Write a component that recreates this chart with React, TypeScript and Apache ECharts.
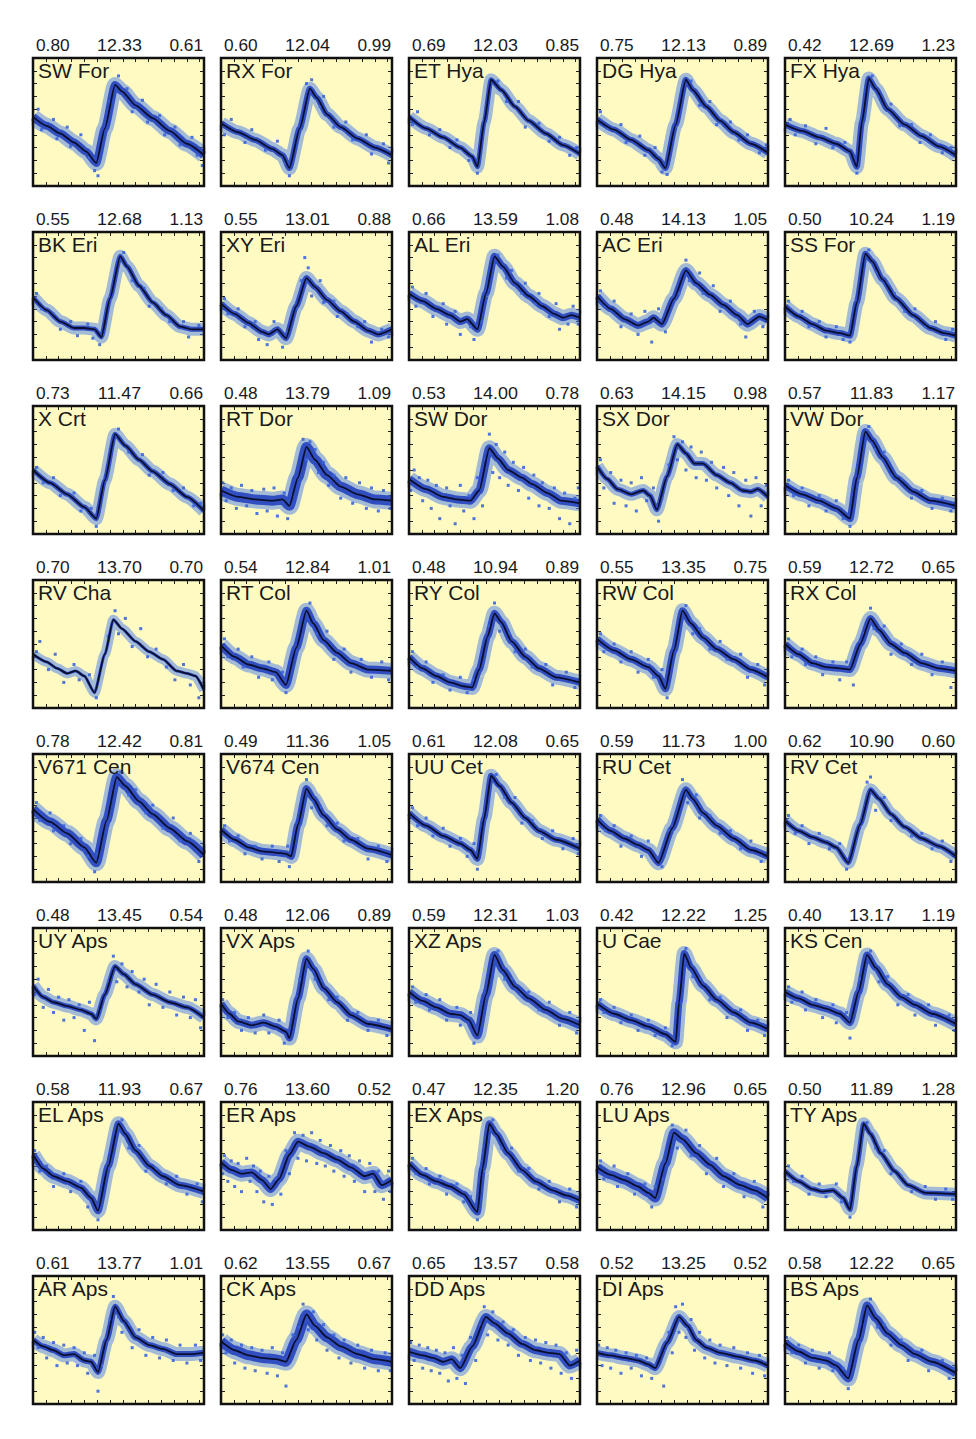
import React, { useEffect, useRef } from "react";
import * as echarts from "echarts";

// ---------- data ----------
const starNames = [
  "SW For", "RX For", "ET Hya", "DG Hya", "FX Hya",
  "BK Eri", "XY Eri", "AL Eri", "AC Eri", "SS For",
  "X Crt", "RT Dor", "SW Dor", "SX Dor", "VW Dor",
  "RV Cha", "RT Col", "RY Col", "RW Col", "RX Col",
  "V671 Cen", "V674 Cen", "UU Cet", "RU Cet", "RV Cet",
  "UY Aps", "VX Aps", "XZ Aps", "U Cae", "KS Cen",
  "EL Aps", "ER Aps", "EX Aps", "LU Aps", "TY Aps",
  "AR Aps", "CK Aps", "DD Aps", "DI Aps", "BS Aps",
];

const periods = [
  "0.80", "0.60", "0.69", "0.75", "0.42",
  "0.55", "0.55", "0.66", "0.48", "0.50",
  "0.73", "0.48", "0.53", "0.63", "0.57",
  "0.70", "0.54", "0.48", "0.55", "0.59",
  "0.78", "0.49", "0.61", "0.59", "0.62",
  "0.48", "0.48", "0.59", "0.42", "0.40",
  "0.58", "0.76", "0.47", "0.76", "0.50",
  "0.61", "0.62", "0.65", "0.52", "0.58",
];

const meanMags = [
  "12.33", "12.04", "12.03", "12.13", "12.69",
  "12.68", "13.01", "13.59", "14.13", "10.24",
  "11.47", "13.79", "14.00", "14.15", "11.83",
  "13.70", "12.84", "10.94", "13.35", "12.72",
  "12.42", "11.36", "12.08", "11.73", "10.90",
  "13.45", "12.06", "12.31", "12.22", "13.17",
  "11.93", "13.60", "12.35", "12.96", "11.89",
  "13.77", "13.55", "13.57", "13.25", "12.22",
];

const amplitudes = [
  "0.61", "0.99", "0.85", "0.89", "1.23",
  "1.13", "0.88", "1.08", "1.05", "1.19",
  "0.66", "1.09", "0.78", "0.98", "1.17",
  "0.70", "1.01", "0.89", "0.75", "0.65",
  "0.81", "1.05", "0.65", "1.00", "0.60",
  "0.54", "0.89", "1.03", "1.25", "1.19",
  "0.67", "0.52", "1.20", "0.65", "1.28",
  "1.01", "0.67", "0.58", "0.52", "0.65",
];

// fitted light curves: [phase %, brightness % of panel height]
const fitCurves = [
  [[0,54],[8,47],[16,41],[24,34],[31,27],[37,18],[42,45],[48,79],[52,74],[60,63],[70,53],[80,43],[90,33],[100,24]],
  [[0,49],[10,42],[20,36],[30,29],[36,24],[40,14],[46,45],[52,76],[56,69],[62,56],[70,46],[80,37],[90,30],[100,24]],
  [[0,54],[10,45],[20,38],[30,30],[37,23],[40,15],[44,50],[48,83],[54,75],[62,62],[70,51],[80,41],[90,32],[100,25]],
  [[0,52],[10,44],[20,36],[30,28],[36,21],[40,14],[46,48],[52,83],[56,75],[64,62],[72,51],[80,42],[90,33],[100,26]],
  [[0,48],[10,43],[20,38],[30,33],[38,27],[42,15],[45,50],[49,84],[53,76],[60,60],[70,48],[80,39],[90,31],[100,24]],
  [[0,49],[8,39],[16,30],[24,25],[30,25],[36,24],[40,18],[45,48],[51,81],[55,73],[62,58],[70,45],[78,35],[86,26],[93,24],[100,24]],
  [[0,44],[8,36],[16,29],[24,22],[28,20],[33,24],[38,17],[44,42],[50,64],[55,57],[62,47],[70,38],[78,30],[86,23],[92,20],[100,24]],
  [[0,52],[8,46],[16,40],[24,35],[30,30],[34,32],[40,24],[45,52],[50,81],[55,73],[62,60],[70,50],[78,42],[85,36],[90,33],[95,35],[100,33]],
  [[0,50],[8,40],[16,32],[24,27],[30,30],[33,33],[38,28],[45,48],[52,70],[58,60],[66,51],[74,43],[82,35],[88,28],[95,34],[100,31]],
  [[0,42],[8,34],[16,28],[24,23],[32,21],[38,19],[42,45],[47,83],[51,77],[57,63],[65,48],[75,35],[85,25],[93,21],[100,19]],
  [[0,50],[10,40],[20,31],[30,21],[37,12],[42,42],[48,78],[54,69],[62,58],[70,49],[80,39],[90,29],[100,18]],
  [[0,34],[10,29],[20,27],[30,26],[36,27],[40,22],[45,44],[50,68],[55,58],[62,46],[70,37],[80,31],[90,27],[100,26]],
  [[0,43],[10,35],[20,29],[28,27],[36,26],[41,34],[47,67],[52,59],[58,50],[66,44],[72,39],[81,32],[89,26],[100,24]],
  [[0,53],[6,43],[12,35],[20,31],[27,34],[31,30],[35,19],[41,45],[47,70],[52,63],[57,55],[62,55],[70,46],[78,40],[85,34],[90,33],[94,35],[100,29]],
  [[0,38],[10,31],[20,26],[30,20],[38,12],[42,44],[47,80],[51,73],[57,60],[65,44],[75,33],[85,26],[100,22]],
  [[0,42],[8,36],[14,31],[20,27],[25,29],[30,25],[36,12],[42,42],[47,69],[52,62],[60,52],[68,44],[76,38],[84,29],[90,27],[95,25],[100,14]],
  [[0,49],[8,40],[16,34],[24,31],[32,28],[38,18],[44,47],[50,76],[54,66],[60,53],[68,43],[76,35],[86,30],[100,29]],
  [[0,40],[8,31],[16,25],[24,20],[32,17],[37,16],[41,30],[46,56],[50,74],[54,67],[60,52],[68,40],[76,31],[86,24],[100,20]],
  [[0,54],[10,45],[20,38],[30,32],[36,25],[40,15],[45,45],[50,76],[55,66],[62,55],[70,46],[80,38],[90,30],[100,24]],
  [[0,50],[8,42],[16,35],[24,32],[32,31],[38,30],[44,50],[50,70],[55,61],[62,50],[70,43],[80,35],[90,31],[100,29]],
  [[0,57],[10,47],[20,38],[30,27],[37,15],[43,48],[49,82],[54,75],[62,63],[70,53],[80,42],[90,32],[100,21]],
  [[0,41],[8,33],[16,27],[24,24],[32,23],[38,22],[41,20],[45,45],[50,73],[54,65],[60,52],[68,41],[76,33],[86,26],[100,21]],
  [[0,54],[10,44],[20,36],[30,30],[36,25],[40,18],[44,50],[48,83],[53,75],[60,62],[68,50],[76,40],[86,33],[100,26]],
  [[0,49],[8,40],[16,34],[24,29],[30,25],[36,15],[44,42],[52,72],[56,65],[62,54],[70,44],[80,34],[90,25],[100,20]],
  [[0,48],[8,40],[16,35],[24,31],[30,27],[37,15],[44,45],[50,72],[55,65],[62,53],[70,43],[80,34],[90,28],[100,20]],
  [[0,55],[6,46],[12,42],[20,39],[28,36],[34,33],[37,29],[42,48],[48,70],[53,64],[60,56],[70,48],[80,42],[90,38],[100,30]],
  [[0,41],[5,33],[10,27],[18,24],[25,26],[32,23],[38,19],[40,14],[45,45],[50,76],[54,68],[60,53],[68,42],[76,32],[86,25],[100,21]],
  [[0,50],[8,43],[16,38],[24,33],[30,32],[35,28],[40,16],[45,48],[50,79],[55,67],[62,54],[70,45],[80,36],[90,29],[100,24]],
  [[0,41],[10,33],[20,28],[30,23],[40,17],[46,11],[48,42],[51,80],[55,69],[62,55],[70,44],[80,34],[90,26],[100,21]],
  [[0,50],[8,45],[16,40],[24,37],[32,33],[38,26],[43,50],[48,79],[53,69],[60,56],[68,46],[76,40],[86,33],[100,25]],
  [[0,59],[6,48],[12,42],[20,38],[28,33],[34,25],[38,15],[44,50],[50,83],[54,75],[60,62],[68,50],[76,42],[86,35],[100,30]],
  [[0,53],[6,47],[12,44],[18,45],[24,39],[29,32],[34,40],[40,59],[45,69],[52,65],[60,60],[68,55],[76,49],[84,42],[89,44],[94,35],[100,39]],
  [[0,52],[8,43],[16,38],[24,34],[32,28],[40,14],[43,48],[47,83],[51,75],[58,60],[66,47],[74,38],[84,31],[92,27],[100,23]],
  [[0,49],[8,43],[16,39],[24,34],[30,29],[34,25],[40,52],[45,76],[50,71],[58,60],[66,51],[74,42],[84,35],[92,31],[100,25]],
  [[0,46],[8,38],[16,32],[22,30],[28,31],[34,25],[38,16],[42,50],[46,83],[50,75],[56,60],[64,46],[72,35],[82,29],[100,28]],
  [[0,50],[6,45],[12,42],[18,38],[24,39],[30,34],[34,33],[38,25],[43,50],[48,76],[53,65],[60,52],[68,46],[76,43],[84,39],[92,39],[100,40]],
  [[0,49],[8,42],[16,38],[24,36],[32,35],[38,33],[44,50],[50,70],[55,61],[62,52],[70,45],[80,39],[90,35],[100,33]],
  [[0,41],[8,38],[14,36],[20,33],[25,35],[30,28],[37,45],[45,68],[50,63],[58,55],[66,47],[74,42],[82,40],[88,39],[94,30],[100,34]],
  [[0,40],[8,38],[16,36],[24,34],[30,31],[34,28],[41,48],[48,68],[53,61],[58,50],[64,44],[72,40],[82,37],[92,34],[100,30]],
  [[0,48],[8,41],[16,36],[24,34],[30,30],[37,20],[43,50],[48,77],[53,67],[60,55],[68,46],[76,39],[86,33],[100,24]],
];

// individual observations that stand out of the dense band: [phase %, brightness %]
const observations = [
  [[3,60],[5,44],[12,52],[14,37],[20,46],[22,31],[28,40],[33,22],[36,12],[38,8],[45,66],[50,86],[55,76],[58,58],[64,67],[67,50],[74,55],[77,40],[83,46],[86,32],[93,38],[96,24],[99,16]],
  [[2,40],[6,52],[14,34],[18,44],[26,28],[33,35],[38,18],[40,8],[50,80],[53,83],[58,62],[60,70],[66,46],[73,50],[77,36],[85,40],[88,25],[95,33],[98,18]],
  [[2,48],[5,58],[12,40],[18,44],[24,30],[28,36],[35,20],[40,10],[52,82],[57,66],[64,66],[68,46],[76,49],[82,35],[88,38],[94,24],[98,30]],
  [[2,58],[6,45],[14,48],[17,34],[25,39],[28,24],[34,30],[38,11],[41,9],[55,82],[60,63],[66,66],[70,48],[78,50],[83,36],[88,40],[95,26],[99,32]],
  [[3,52],[6,40],[12,47],[18,33],[24,45],[28,30],[35,34],[40,22],[42,10],[51,86],[55,70],[62,64],[67,47],[74,48],[79,34],[85,40],[92,26],[97,30]],
  [[2,52],[5,40],[12,36],[16,24],[22,30],[26,19],[32,28],[35,17],[39,12],[53,84],[58,62],[65,56],[68,42],[75,40],[80,30],[88,30],[91,18],[97,27]],
  [[2,48],[4,36],[10,40],[14,26],[20,30],[22,16],[27,12],[31,30],[36,10],[39,22],[47,62],[49,80],[51,72],[53,50],[58,62],[60,45],[66,46],[68,34],[74,36],[80,26],[84,30],[88,14],[94,24],[98,18]],
  [[2,57],[4,42],[10,52],[14,34],[20,44],[22,28],[27,38],[30,20],[36,26],[38,16],[42,30],[52,82],[57,64],[60,70],[66,52],[68,60],[74,44],[76,52],[82,34],[86,44],[88,24],[93,28],[96,42],[99,28]],
  [[2,54],[5,42],[10,46],[14,26],[20,36],[24,20],[28,38],[32,14],[36,40],[40,22],[48,52],[52,78],[54,62],[60,68],[62,52],[68,58],[72,38],[78,46],[84,28],[87,18],[92,38],[97,26]],
  [[2,46],[4,36],[10,38],[14,26],[20,30],[24,18],[30,26],[34,16],[38,14],[49,86],[54,68],[60,60],[64,52],[70,38],[76,40],[82,26],[88,30],[94,16],[98,24]],
  [[2,52],[6,40],[12,44],[16,30],[24,32],[28,18],[34,20],[37,6],[50,82],[56,64],[64,62],[68,46],[76,48],[82,34],[88,36],[94,22],[98,24]],
  [[1,40],[3,26],[6,36],[9,20],[12,38],[15,22],[18,34],[21,16],[25,35],[27,18],[31,36],[33,14],[37,32],[39,12],[42,30],[48,74],[50,58],[52,72],[55,66],[57,48],[60,56],[63,38],[66,46],[70,28],[73,44],[77,24],[81,40],[85,20],[88,36],[92,18],[95,34],[99,20]],
  [[1,34],[3,50],[6,44],[8,26],[11,42],[13,20],[16,38],[18,12],[22,36],[24,22],[27,8],[30,38],[32,18],[35,30],[38,12],[40,44],[43,22],[45,58],[47,78],[49,48],[51,70],[53,44],[56,64],[58,38],[61,56],[64,34],[67,52],[70,28],[73,46],[76,22],[78,40],[82,20],[85,36],[88,12],[91,32],[94,8],[97,28],[99,36]],
  [[2,58],[4,36],[8,48],[10,24],[14,42],[17,22],[20,40],[23,18],[26,44],[29,26],[33,36],[36,10],[38,28],[42,54],[45,76],[47,58],[50,72],[52,50],[55,68],[58,44],[61,64],[64,42],[67,56],[70,36],[74,52],[77,30],[80,48],[83,22],[87,42],[90,14],[93,44],[96,22],[99,38]],
  [[2,42],[5,30],[10,36],[14,22],[20,30],[24,18],[30,26],[34,12],[38,6],[49,84],[53,66],[58,64],[63,46],[68,42],[74,28],[80,34],[86,20],[92,28],[97,18]],
  [[2,44],[4,52],[9,30],[13,42],[18,20],[24,34],[27,22],[33,26],[37,8],[44,56],[48,76],[50,58],[54,70],[58,48],[63,62],[67,40],[72,46],[78,32],[83,22],[88,34],[92,18],[97,8]],
  [[2,54],[4,40],[10,46],[13,32],[18,40],[22,24],[28,36],[30,22],[36,28],[38,12],[52,82],[56,58],[62,60],[66,38],[72,46],[76,28],[82,38],[88,24],[94,36],[98,22]],
  [[2,44],[5,32],[10,36],[14,20],[20,26],[24,14],[30,24],[34,12],[38,22],[47,64],[50,82],[53,60],[58,58],[62,44],[68,46],[72,32],[80,34],[84,18],[92,28],[97,16]],
  [[2,58],[4,44],[10,50],[14,36],[20,44],[24,28],[30,38],[33,24],[38,30],[41,8],[52,80],[56,58],[60,62],[66,46],[72,52],[76,38],[84,42],[88,24],[94,34],[98,18]],
  [[2,54],[4,40],[10,46],[12,34],[18,40],[22,26],[28,36],[32,22],[36,36],[40,18],[46,58],[50,78],[52,62],[58,64],[62,42],[68,50],[74,34],[80,42],[86,26],[92,36],[97,16]],
  [[2,62],[4,48],[10,54],[12,40],[18,44],[22,30],[28,34],[32,20],[36,8],[38,22],[51,86],[56,68],[60,72],[66,54],[70,60],[76,42],[82,50],[86,32],[92,38],[97,16]],
  [[2,44],[5,32],[10,36],[14,22],[20,28],[24,18],[30,28],[34,16],[39,28],[40,12],[50,80],[53,58],[58,58],[62,44],[68,46],[72,32],[80,34],[86,18],[92,28],[97,16]],
  [[2,58],[5,44],[10,50],[14,36],[20,42],[24,28],[30,34],[34,20],[38,30],[40,10],[51,84],[56,66],[62,66],[66,46],[72,48],[78,34],[84,40],[90,26],[96,34],[99,22]],
  [[2,52],[5,40],[10,44],[14,28],[20,36],[26,20],[30,32],[34,18],[38,12],[42,40],[50,80],[53,62],[58,68],[60,50],[66,52],[72,38],[78,40],[84,26],[90,32],[96,16]],
  [[2,52],[6,38],[10,44],[14,30],[20,38],[26,26],[32,30],[36,10],[48,78],[50,82],[53,56],[58,66],[62,48],[68,46],[74,36],[80,38],[86,26],[92,32],[97,16]],
  [[1,48],[3,60],[6,38],[9,52],[12,34],[15,46],[18,28],[21,44],[24,30],[27,40],[30,20],[33,42],[36,12],[39,36],[44,58],[47,78],[49,58],[52,72],[55,54],[58,66],[62,50],[65,60],[68,40],[72,56],[76,38],[80,50],[84,32],[88,46],[92,30],[95,44],[98,22]],
  [[1,44],[4,30],[8,34],[12,20],[16,30],[20,18],[25,32],[28,18],[34,28],[37,10],[46,60],[51,82],[55,60],[58,58],[63,44],[68,46],[74,28],[80,34],[86,20],[92,28],[97,16]],
  [[2,54],[4,42],[10,48],[12,36],[18,44],[22,28],[28,38],[30,24],[36,34],[38,10],[52,82],[56,60],[60,60],[66,48],[70,50],[76,36],[82,42],[88,24],[94,34],[98,18]],
  [[2,44],[4,34],[10,38],[14,26],[20,32],[24,20],[30,28],[34,16],[40,22],[44,8],[52,84],[56,62],[60,60],[66,44],[72,46],[76,30],[84,36],[88,20],[94,28],[98,16]],
  [[2,54],[4,42],[10,50],[12,36],[18,44],[22,30],[28,40],[30,26],[36,34],[38,14],[44,60],[50,82],[55,58],[60,62],[66,40],[72,48],[76,32],[84,40],[88,24],[96,32],[99,20]],
  [[1,62],[4,46],[8,50],[12,34],[18,44],[22,30],[28,38],[32,18],[38,8],[52,86],[56,64],[62,66],[66,46],[72,48],[78,36],[84,42],[90,28],[96,36],[99,22]],
  [[1,44],[2,58],[4,38],[6,54],[8,34],[10,52],[12,30],[15,56],[17,38],[19,50],[21,30],[23,46],[25,22],[28,42],[30,20],[32,40],[35,28],[38,62],[40,44],[43,76],[45,56],[48,74],[50,54],[53,76],[56,52],[58,70],[61,50],[64,66],[66,46],[70,62],[72,42],[75,58],[78,38],[81,54],[84,30],[87,52],[90,30],[92,46],[95,24],[98,46],[99,30]],
  [[2,56],[4,44],[10,48],[12,36],[18,42],[22,28],[28,36],[32,22],[36,26],[40,8],[49,86],[54,64],[60,64],[64,46],[70,48],[76,32],[82,38],[88,22],[94,32],[98,18]],
  [[2,54],[4,40],[10,50],[12,34],[18,44],[22,28],[28,36],[32,18],[34,34],[38,40],[44,82],[47,64],[52,78],[55,58],[60,66],[64,44],[70,56],[74,34],[80,44],[86,26],[92,38],[97,18]],
  [[2,50],[5,38],[10,42],[14,28],[20,36],[24,26],[30,36],[33,22],[38,10],[48,84],[53,64],[58,62],[62,44],[68,42],[74,30],[82,34],[88,24],[94,32],[98,24]],
  [[1,56],[3,44],[6,52],[8,36],[12,48],[14,30],[18,46],[20,32],[24,44],[26,30],[30,40],[32,24],[36,38],[38,10],[40,30],[45,66],[47,84],[50,68],[52,56],[56,62],[58,44],[62,58],[66,38],[70,52],[74,36],[78,50],[82,34],[86,46],[90,32],[95,46],[98,34]],
  [[1,54],[3,40],[6,50],[8,32],[12,46],[14,28],[18,44],[20,26],[24,42],[27,24],[30,44],[33,22],[36,40],[38,14],[42,54],[46,60],[48,78],[51,58],[54,72],[56,50],[60,62],[62,42],[66,54],[69,36],[72,50],[76,32],[80,46],[84,28],[88,42],[92,26],[96,40],[99,26]],
  [[1,48],[3,34],[6,46],[8,28],[11,44],[13,26],[16,42],[18,24],[21,40],[23,18],[26,44],[28,20],[31,38],[33,16],[36,52],[39,34],[42,62],[44,76],[46,54],[49,72],[52,50],[55,64],[58,46],[61,58],[64,38],[68,52],[71,34],[74,50],[77,32],[80,48],[83,28],[86,46],[89,24],[92,40],[95,20],[98,42]],
  [[1,46],[3,30],[6,44],[8,28],[11,42],[14,24],[17,40],[20,28],[23,38],[26,22],[29,36],[32,20],[35,30],[37,38],[39,14],[42,56],[44,40],[46,76],[48,56],[50,78],[52,52],[55,66],[57,42],[60,56],[63,36],[66,50],[69,32],[72,46],[76,30],[80,44],[84,28],[88,40],[91,24],[95,38],[98,22]],
  [[1,52],[4,40],[8,46],[12,32],[16,42],[20,28],[26,40],[28,26],[34,28],[37,12],[45,62],[50,82],[54,60],[58,62],[62,46],[68,50],[72,34],[80,42],[84,26],[92,34],[96,20],[99,28]],
];

// ---------- layout / style (kept apart from the data) ----------
const bandWidth = [
  10, 8, 7, 8, 8,
  7, 8, 9, 9, 8,
  7, 12, 10, 7, 9,
  4, 10, 9, 9, 9,
  11, 9, 8, 9, 7,
  7, 9, 10, 9, 9,
  9, 10, 9, 11, 7,
  8, 12, 10, 8, 10,
];
const COLS = 5;
const COL_LEFT = [33, 221, 409, 597, 785];
const ROW_TOP0 = 58;
const ROW_STEP = 174;
const PW = 171;
const PH = 128;
const FONT = "'Liberation Sans', Arial, Helvetica, sans-serif";

export default function App() {
  const ref = useRef<HTMLDivElement>(null);

  useEffect(() => {
    if (!ref.current) return;
    const chart = echarts.init(ref.current, undefined, { renderer: "svg" });

    const grids: any[] = [];
    const xAxes: any[] = [];
    const yAxes: any[] = [];
    const series: any[] = [];
    const graphics: any[] = [];

    const tick = { show: true, inside: true, length: 4, lineStyle: { color: "#222", width: 1 } };

    starNames.forEach((name, i) => {
      const r = Math.floor(i / COLS);
      const c = i % COLS;
      const left = COL_LEFT[c];
      const top = ROW_TOP0 + r * ROW_STEP;

      grids.push({
        left, top, width: PW, height: PH,
        show: true,
        backgroundColor: "#fffac2",
        borderWidth: 0,
        containLabel: false,
      });

      const xBase = {
        gridIndex: i, type: "value", min: 0, max: 100, interval: 7.5,
        axisLabel: { show: false }, splitLine: { show: false },
        axisLine: { show: false, onZero: false }, axisTick: tick,
      };
      const yBase = {
        gridIndex: i, type: "value", min: 0, max: 100, interval: 10,
        axisLabel: { show: false }, splitLine: { show: false },
        axisLine: { show: false, onZero: false }, axisTick: tick,
      };
      xAxes.push({ ...xBase, position: "bottom" });
      xAxes.push({ ...xBase, position: "top" });
      yAxes.push({ ...yBase, position: "left" });
      yAxes.push({ ...yBase, position: "right" });

      const xi = 2 * i;
      const yi = 2 * i;

      // dense cloud of measurements (outer halo + inner core)
      series.push({
        type: "line", xAxisIndex: xi, yAxisIndex: yi, data: fitCurves[i],
        symbol: "none", smooth: 0.2, smoothMonotone: "x", z: 2, silent: true,
        lineStyle: { width: bandWidth[i] + 6, color: "rgba(90,135,232,0.55)", cap: "butt", join: "round" },
      });
      series.push({
        type: "line", xAxisIndex: xi, yAxisIndex: yi, data: fitCurves[i],
        symbol: "none", smooth: 0.2, smoothMonotone: "x", z: 3, silent: true,
        lineStyle: { width: Math.max(bandWidth[i] - 2, 3), color: "rgba(30,60,190,0.85)", cap: "butt", join: "round" },
      });
      // individual observations
      series.push({
        type: "scatter", xAxisIndex: xi, yAxisIndex: yi, data: observations[i],
        symbol: "rect", symbolSize: 3, z: 4, silent: true,
        itemStyle: { color: "#3c66da", opacity: 0.9 },
      });
      // fitted curve
      series.push({
        type: "line", xAxisIndex: xi, yAxisIndex: yi, data: fitCurves[i],
        symbol: "none", smooth: 0.2, smoothMonotone: "x", z: 5, silent: true,
        lineStyle: { width: 1.8, color: "#0b0f2e" },
      });

      // white masks just outside the left/right edges, then the frame on top
      graphics.push({ type: "rect", z: 90, silent: true, shape: { x: left - 9, y: top - 2, width: 7.5, height: PH + 4 }, style: { fill: "#ffffff" } });
      graphics.push({ type: "rect", z: 90, silent: true, shape: { x: left + PW + 1.5, y: top - 2, width: 7.5, height: PH + 4 }, style: { fill: "#ffffff" } });
      graphics.push({
        type: "rect", z: 95, silent: true,
        shape: { x: left, y: top, width: PW, height: PH },
        style: { fill: "none", stroke: "#111111", lineWidth: 2.5 },
      });

      const ty = top - 12;
      const titleStyle = { fontSize: 16, fontFamily: FONT, fill: "#1a1a1a", textVerticalAlign: "middle" };
      graphics.push({ type: "text", x: left + 3, y: ty, scaleX: 1.08, style: { ...titleStyle, text: periods[i], textAlign: "left" } });
      graphics.push({ type: "text", x: left + PW / 2 + 1, y: ty, scaleX: 1.12, style: { ...titleStyle, text: meanMags[i], textAlign: "center" } });
      graphics.push({ type: "text", x: left + PW - 1, y: ty, scaleX: 1.08, style: { ...titleStyle, text: amplitudes[i], textAlign: "right" } });
      graphics.push({
        type: "text", x: left + 5, y: top + 12, z: 100,
        style: { text: name, fontSize: 21, fontFamily: FONT, fill: "#1a1a1a", textAlign: "left", textVerticalAlign: "middle" },
      });
    });

    chart.setOption({
      animation: false,
      backgroundColor: "#ffffff",
      grid: grids,
      xAxis: xAxes,
      yAxis: yAxes,
      series,
      graphic: graphics,
    });

    return () => chart.dispose();
  }, []);

  return (
    <div
      ref={ref}
      style={{ position: "absolute", left: 0, top: 0, width: 976, height: 1439, background: "#fff" }}
    />
  );
}
